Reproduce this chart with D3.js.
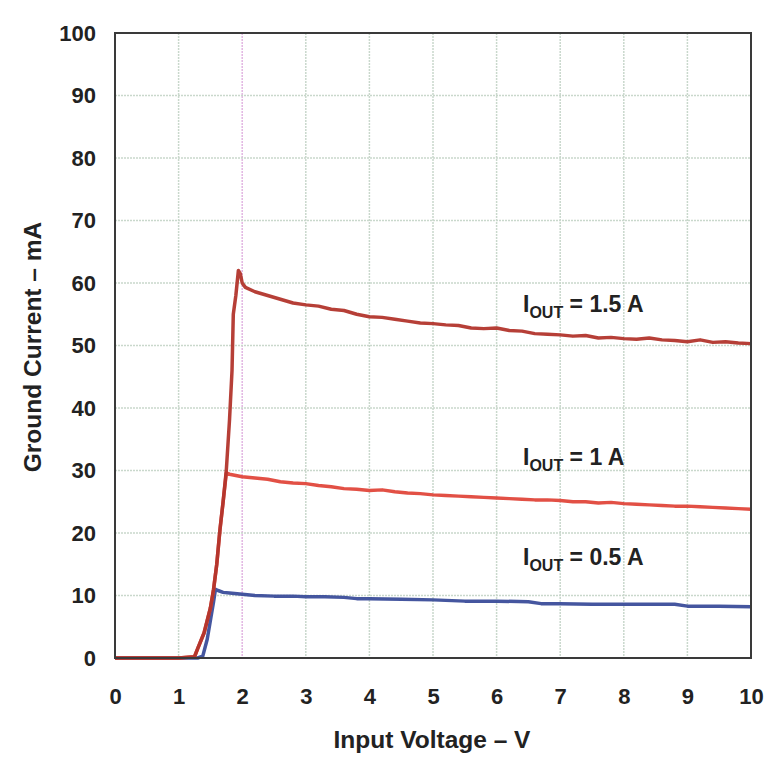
<!DOCTYPE html>
<html><head><meta charset="utf-8">
<script src="https://cdn.jsdelivr.net/npm/d3@7"></script>
<style>body{margin:0;background:#fff}</style>
</head><body>
<svg id="c" width="782" height="776"></svg>
<script>
const xTicks = [0,1,2,3,4,5,6,7,8,9,10];
const yTicks = [0,10,20,30,40,50,60,70,80,90,100];

const vin15 = [0,0.5,1.0,1.25,1.3,1.4,1.5,1.55,1.6,1.65,1.7,1.75,1.8,1.84,1.86,1.9,1.94,1.97,2.0,2.05,2.2,2.4,2.6,2.8,3.0,3.2,3.4,3.6,3.8,4.0,4.2,4.4,4.6,4.8,5.0,5.2,5.4,5.6,5.8,6.0,6.2,6.4,6.6,6.8,7.0,7.2,7.4,7.6,7.8,8.0,8.2,8.4,8.6,8.8,9.0,9.2,9.4,9.6,9.8,10.0];
const ig15  = [0,0,0,0.2,1.5,4,8,11,15,20.5,25,30,38,46,55,58,62,61.5,60,59.3,58.6,58,57.4,56.8,56.5,56.3,55.8,55.6,55.0,54.6,54.5,54.2,53.9,53.6,53.5,53.3,53.2,52.8,52.7,52.8,52.4,52.3,51.9,51.8,51.7,51.5,51.6,51.2,51.3,51.1,51.0,51.2,50.9,50.8,50.6,50.9,50.5,50.6,50.4,50.3];

const vin10 = [0,0.5,1.0,1.25,1.3,1.4,1.5,1.55,1.6,1.65,1.7,1.75,1.8,1.9,2.0,2.2,2.4,2.6,2.8,3.0,3.2,3.4,3.6,3.8,4.0,4.2,4.4,4.6,4.8,5.0,5.2,5.4,5.6,5.8,6.0,6.2,6.4,6.6,6.8,7.0,7.2,7.4,7.6,7.8,8.0,8.2,8.4,8.6,8.8,9.0,9.2,9.4,9.6,9.8,10.0];
const ig10  = [0,0,0,0.2,1.5,4,8,11,15,20.5,25,29.6,29.4,29.2,29.0,28.8,28.6,28.2,28.0,27.9,27.6,27.4,27.1,27.0,26.8,26.9,26.6,26.4,26.3,26.1,26.0,25.9,25.8,25.7,25.6,25.5,25.4,25.3,25.3,25.2,25.0,25.0,24.8,24.9,24.7,24.6,24.5,24.4,24.3,24.3,24.2,24.1,24.0,23.9,23.8];

const vin05 = [0,0.5,1.0,1.3,1.38,1.45,1.5,1.55,1.58,1.62,1.7,1.8,2.0,2.2,2.5,2.8,3.0,3.3,3.6,3.8,4.0,4.5,5.0,5.5,6.0,6.5,6.7,7.0,7.5,8.0,8.5,8.8,9.0,9.5,10.0];
const ig05  = [0,0,0,0,0.3,3,6,9,11,10.8,10.5,10.4,10.2,10.0,9.9,9.9,9.8,9.8,9.7,9.5,9.5,9.4,9.3,9.1,9.1,9.0,8.7,8.7,8.6,8.6,8.6,8.6,8.3,8.3,8.2];

const seriesNames = ["IOUT = 1.5 A","IOUT = 1 A","IOUT = 0.5 A"];
const labY = [56.6,32.2,16.2];

const FONT = "Liberation Sans, Arial, Helvetica, sans-serif";
const svg = d3.select("#c");
const L=115, R=751, T=33, B=658;
const x = d3.scaleLinear().domain([0,10]).range([L,R]);
const y = d3.scaleLinear().domain([0,100]).range([B,T]);

// grid
const g = svg.append("g");
g.selectAll(".vg").data(xTicks.slice(1,-1)).join("line")
  .attr("x1",d=>x(d)).attr("x2",d=>x(d)).attr("y1",T).attr("y2",B)
  .attr("stroke",d=>d===2?"#e2b6e2":"#c9d8cc").attr("stroke-width",1.5).attr("stroke-dasharray","2,1");
g.selectAll(".hg").data(yTicks.slice(1,-1)).join("line")
  .attr("y1",d=>y(d)).attr("y2",d=>y(d)).attr("x1",L).attr("x2",R)
  .attr("stroke","#c9d8cc").attr("stroke-width",1.5).attr("stroke-dasharray","2,1");

// axes
const xa = svg.append("g").attr("transform",`translate(0,${B})`)
  .call(d3.axisBottom(x).tickValues(xTicks).tickSize(0).tickPadding(30).tickFormat(d3.format("d")));
const ya = svg.append("g").attr("transform",`translate(${L},0)`)
  .call(d3.axisLeft(y).tickValues(yTicks).tickSize(0).tickPadding(19).tickFormat(d3.format("d")));
[xa,ya].forEach(a=>{a.select(".domain").remove();
  a.selectAll("text").attr("font-family",FONT).attr("font-weight","bold").attr("font-size",22).attr("fill","#222");});

// lines
const line = d3.line().x(d=>x(d[0])).y(d=>y(d[1]));
const data = [
  {v:vin05,i:ig05,c:"#3b4d9a"},
  {v:vin10,i:ig10,c:"#e0473b"},
  {v:vin15,i:ig15,c:"#b2352c"}
];
data.forEach(s=>{
  svg.append("path").datum(s.v.map((v,k)=>[v,s.i[k]]))
    .attr("d",line).attr("fill","none").attr("stroke",s.c).attr("stroke-width",3.5)
    .attr("stroke-linejoin","round").attr("opacity",0.95);
});

// frame
svg.append("rect").attr("x",L).attr("y",T).attr("width",R-L).attr("height",B-T)
  .attr("fill","none").attr("stroke","#3a3a3a").attr("stroke-width",2);

// series labels
seriesNames.forEach((n,k)=>{
  const t = svg.append("text").attr("x",523).attr("y",y(labY[k])+8)
    .attr("font-family",FONT).attr("font-weight","bold").attr("font-size",23).attr("fill","#222");
  t.append("tspan").text("I");
  t.append("tspan").text("OUT").attr("font-size",16).attr("dy",6);
  t.append("tspan").text(n.slice(4)).attr("dy",-6);
});

// axis titles
svg.append("text").attr("x",432).attr("y",748).attr("text-anchor","middle")
  .attr("font-family",FONT).attr("font-weight","bold").attr("font-size",24.5).attr("fill","#222")
  .text("Input Voltage – V");
svg.append("text").attr("transform",`translate(41,347) rotate(-90)`).attr("text-anchor","middle")
  .attr("font-family",FONT).attr("font-weight","bold").attr("font-size",24.5).attr("fill","#222")
  .text("Ground Current – mA");
</script>
</body></html>
